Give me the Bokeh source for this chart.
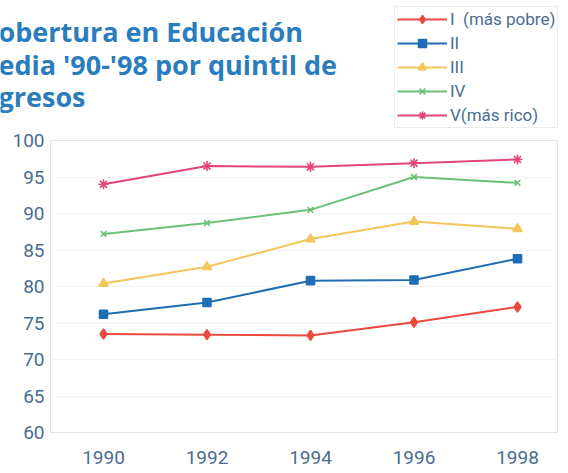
from bokeh.plotting import figure
from bokeh.layouts import column
from bokeh.models import Range1d, FixedTicker, Legend, LegendItem
from bokeh.core.properties import value
from bokeh.embed import file_html
from bokeh.resources import INLINE

years = [1990, 1992, 1994, 1996, 1998]
q1 = [73.5, 73.4, 73.3, 75.1, 77.2]
q2 = [76.2, 77.8, 80.8, 80.9, 83.8]
q3 = [80.4, 82.7, 86.5, 88.9, 87.9]
q4 = [87.2, 88.7, 90.5, 95.0, 94.2]
q5 = [94.0, 96.5, 96.4, 96.9, 97.4]
series_names = ["I  (más pobre)", "II", "III", "IV", "V(más rico)"]
y_ticks = [60, 65, 70, 75, 80, 85, 90, 95, 100]
title_lines = ["obertura en Educación", "edia '90-'98 por quintil de", "gresos"]

colors = ["#ea4a3c", "#1f6db4", "#f4c55a", "#6cbf76", "#e2447c"]
markers = ["diamond", "square", "triangle", "x", "asterisk"]
msizes = [10, 8, 9, 8, 10]
TICK_COLOR = "#4a6d8f"
TITLE_COLOR = "#2a7dbd"
FONT = "Roboto"

W = 568
H_HEAD = 128
H_MAIN = 473 - H_HEAD

# ---------- header: title + legend ----------
head = figure(width=W, height=H_HEAD, output_backend="svg", toolbar_location=None,
              x_range=Range1d(0, W), y_range=Range1d(H_HEAD, 0),
              x_axis_location=None, y_axis_location=None,
              min_border_left=0, min_border_right=0, min_border_top=0,
              min_border_bottom=0)
head.frame_align = False
head.outline_line_color = None
head.grid.grid_line_color = None
head.background_fill_color = "white"
head.border_fill_color = "white"

title_y = [31, 64, 96]
head.text(x=[-2, -2, -2], y=title_y, text=title_lines,
          text_font=value("Open Sans"), text_font_style="bold",
          text_font_size="27px", text_color=TITLE_COLOR,
          text_baseline="alphabetic", text_align="left")

# off-screen proxies that only serve as legend swatches
items = []
for c, m, s, name in zip(colors, markers, msizes, series_names):
    ln = head.line(x=[-100, -90], y=[-100, -100], line_color=c, line_width=2)
    sc = head.scatter(x=[-100], y=[-100], marker=m, size=s, fill_color=c,
                      line_color=c, line_width=1.6)
    items.append(LegendItem(label=name, renderers=[ln, sc]))

legend = Legend(items=items, location=(394, 0), orientation="vertical",
                glyph_width=50, glyph_height=20, label_height=20,
                label_standoff=3, spacing=4, padding=2, margin=0,
                label_text_font=FONT, label_text_font_size="17px",
                label_text_color=TICK_COLOR,
                border_line_color="#d9d9d9", border_line_width=1,
                background_fill_color="white", background_fill_alpha=1.0)
head.add_layout(legend, "center")

# ---------- main chart ----------
p = figure(width=W, height=H_MAIN, output_backend="svg", toolbar_location=None,
           x_range=Range1d(1988.976, 1998.773), y_range=Range1d(60, 100),
           min_border_left=50, min_border_right=11, min_border_top=12,
           min_border_bottom=41)
p.frame_align = False
p.outline_line_color = "#e4e4e4"
p.xgrid.grid_line_color = None
p.ygrid.grid_line_color = "#f4f4f4"
p.background_fill_color = "white"
p.border_fill_color = "white"

for ax in (p.xaxis[0], p.yaxis[0]):
    ax.axis_line_color = None
    ax.major_tick_line_color = None
    ax.minor_tick_line_color = None
    ax.major_tick_out = 0
    ax.major_tick_in = 0
    ax.major_label_text_color = TICK_COLOR
    ax.major_label_text_font = FONT

p.yaxis.ticker = FixedTicker(ticks=y_ticks)
p.yaxis.major_label_text_font_size = "19px"
p.yaxis.major_label_standoff = 6
p.xaxis.ticker = FixedTicker(ticks=years)
p.xaxis.major_label_text_font_size = "19px"
p.xaxis.major_label_standoff = 18

for vals, c, m, s in zip([q1, q2, q3, q4, q5], colors, markers, msizes):
    p.line(years, vals, line_color=c, line_width=2)
    p.scatter(years, vals, marker=m, size=s, fill_color=c, line_color=c,
              line_width=1.6)

open("out.html", "w").write(file_html(column(head, p), INLINE))
